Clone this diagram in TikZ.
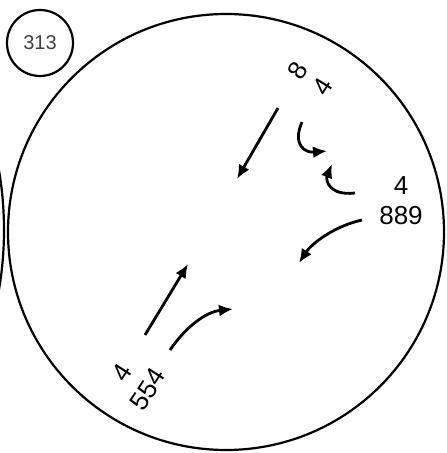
\documentclass[tikz,border=0pt]{standalone}
\usepackage{fontspec}
\setmainfont{Liberation Sans}
\usetikzlibrary{arrows.meta}
\begin{document}
\begin{tikzpicture}[x=0.5pt,y=-0.5pt,line width=1.1pt,
  flow/.style={line width=1.4pt,-{Latex[length=7pt,width=6pt]}},
  ref/.style={font=\fontsize{13}{15}\selectfont,align=center,inner sep=0pt}]
\useasboundingbox (0,0) rectangle (446,453);
\coordinate (O) at (226,232);
\coordinate (tag) at (40,43);
\draw (O) circle[radius=218];
\draw (tag) circle[radius=33];
\node[font=\fontsize{10}{12}\selectfont,text=black!75] (tagtext) at (tag) {313};
\begin{scope}
\clip (0,0) rectangle (446,453);
\draw (-349,230) circle[radius=353]; %neighbour
\end{scope}

\node[ref,rotate=58] (top) at (310,79) {8\\4};
\node[ref] (right) at (401,201) {4\\889};
\node[ref,rotate=57] (low) at (135,381) {4\\554};

\coordinate (a1) at (278,108);
\coordinate (b1) at (237,179);
\draw[flow] (a1)--(b1);
\coordinate (a2) at (302,122);
\coordinate (b2) at (327,151);
\draw[flow] (a2) .. controls (292,145) and (305,153) .. (b2);
\coordinate (a3) at (355,193);
\coordinate (b3) at (332,164);
\draw[flow] (a3) .. controls (330,196) and (325,181) .. (b3);
\coordinate (a4) at (362,220);
\coordinate (b4) at (299,263);
\draw[flow] (a4) .. controls (335,226) and (312,243) .. (b4);
\coordinate (a5) at (145,335);
\coordinate (b5) at (188,264);
\draw[flow] (a5)--(b5);
\coordinate (a6) at (170,350);
\coordinate (b6) at (233,309);
\draw[flow] (a6) .. controls (185,328) and (205,312) .. (b6);
\end{tikzpicture}
\end{document}
